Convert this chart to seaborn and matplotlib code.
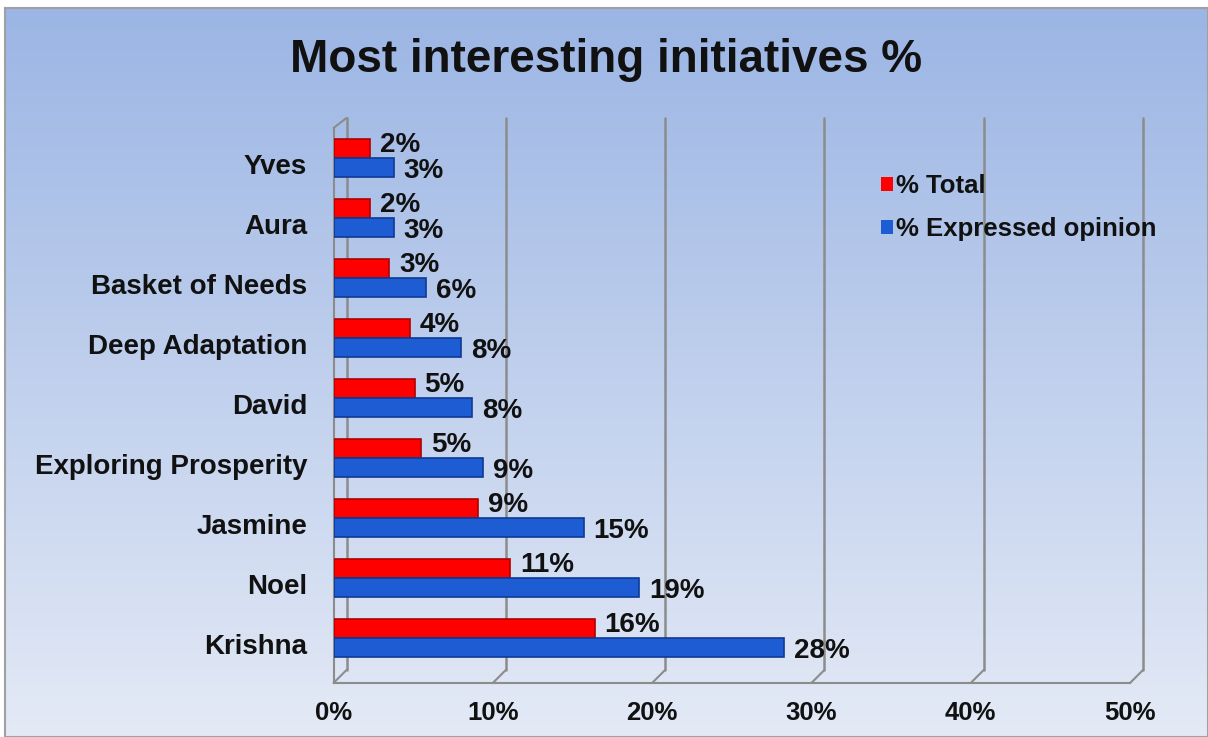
import numpy as np
import pandas as pd
import matplotlib
matplotlib.use("Agg")
import matplotlib.pyplot as plt
import matplotlib.transforms as mtransforms
from matplotlib.patches import Patch
import seaborn as sns

# ---- data ----
categories = ["Yves", "Aura", "Basket of Needs", "Deep Adaptation", "David",
              "Exploring Prosperity", "Jasmine", "Noel", "Krishna"]
series_names = ["% Total", "% Expressed opinion"]
total = [2.3, 2.3, 3.5, 4.8, 5.1, 5.5, 9.1, 11.1, 16.4]
expressed = [3.8, 3.8, 5.8, 8.0, 8.7, 9.4, 15.7, 19.2, 28.3]
total_labels = ["2%", "2%", "3%", "4%", "5%", "5%", "9%", "11%", "16%"]
expressed_labels = ["3%", "3%", "6%", "8%", "8%", "9%", "15%", "19%", "28%"]
xticks = [0, 10, 20, 30, 40, 50]
xtick_labels = ["0%", "10%", "20%", "30%", "40%", "50%"]
title = "Most interesting initiatives %"

df = pd.DataFrame({
    "initiative": categories * 2,
    "value": total + expressed,
    "series": [series_names[0]] * len(categories) + [series_names[1]] * len(categories),
})

RED = "#FF0000"
RED_EDGE = "#B00000"
BLUE = "#1E5CD4"
BLUE_EDGE = "#0E3A94"
GRID = "#8C8C8C"
TEXT = "#111111"

sns.set_theme(style="white")
plt.rcParams["font.family"] = ["Liberation Sans", "DejaVu Sans"]
plt.rcParams["font.weight"] = "bold"

W, H, DPI = 1208, 737, 100
fig = plt.figure(figsize=(W / DPI, H / DPI), dpi=DPI, facecolor="white")

# gradient background panel
bg = fig.add_axes([5 / W, 0, 1 - 5 / W, 1 - 8 / H], zorder=-10)
top_c = np.array([155, 181, 228]) / 255
bot_c = np.array([228, 234, 246]) / 255
t = np.linspace(0, 1, 256)[:, None]
grad = (top_c[None, :] * (1 - t) + bot_c[None, :] * t)[:, None, :]
bg.imshow(grad, aspect="auto", extent=[0, 1, 0, 1], origin="upper")
bg.set_xticks([]); bg.set_yticks([])
for s in bg.spines.values():
    s.set_color("#A0A0A0"); s.set_linewidth(1.5)

# main axes: 0% at x=333.5px, 50% at 1130px ; y from 128px to 683px
x0, x1 = 333.5, 1130
ytop, ybot = 128, 683
ax = fig.add_axes([x0 / W, (H - ybot) / H, (x1 - x0) / W, (ybot - ytop) / H])
ax.patch.set_alpha(0)

sns.barplot(data=df, y="initiative", x="value", hue="series", orient="h",
            palette=[RED, BLUE], width=0.64, dodge=True, saturation=1,
            legend=False, ax=ax, zorder=3)

ax.set_xlim(0, 50)
ax.set_ylim(8.75, -0.5)

for cont, ec in zip(ax.containers, [RED_EDGE, BLUE_EDGE]):
    for p in cont:
        p.set_edgecolor(ec)
        p.set_linewidth(1.2)

# data labels
for cont, labs, dy in zip(ax.containers, [total_labels, expressed_labels], [2.5, -2.5]):
    for p, lab in zip(cont, labs):
        ax.annotate(lab, xy=(p.get_width(), p.get_y() + p.get_height() / 2),
                    xytext=(7, dy), textcoords="offset points",
                    ha="left", va="center", fontsize=20, fontweight="bold",
                    color=TEXT, zorder=5)

# 3D-like gridlines (back wall offset)
px_per_unit = (x1 - x0) / 50
dx = 13 / px_per_unit
dy_ax = 13 / (ybot - ytop)
xt = ax.get_xaxis_transform()
for v in xticks:
    ax.plot([v + dx, v + dx], [dy_ax, 1 + 10 / (ybot - ytop)], color=GRID, lw=1.8,
            transform=xt, clip_on=False, zorder=1)
    ax.plot([v, v + dx], [0, dy_ax], color=GRID, lw=1.5, transform=xt,
            clip_on=False, zorder=1)
ax.plot([0, dx], [1, 1 + 10 / (ybot - ytop)], color=GRID, lw=1.5, transform=xt,
        clip_on=False, zorder=1)

# axes styling
for side in ["top", "right"]:
    ax.spines[side].set_visible(False)
for side in ["left", "bottom"]:
    ax.spines[side].set_color(GRID)
    ax.spines[side].set_linewidth(1.5)

ax.set_xticks(xticks)
ax.set_xticklabels(xtick_labels)
ax.tick_params(axis="x", length=5, width=1.2, color=GRID, direction="out",
               pad=8, labelsize=18.5, labelcolor=TEXT)
ax.tick_params(axis="y", which="major", length=0, pad=19, labelsize=20, labelcolor=TEXT)
ax.set_yticks(np.arange(len(categories) + 1) - 0.417, minor=True)
ax.tick_params(axis="y", which="minor", length=5, width=1.2, color=GRID, direction="out")
for lab in ax.get_xticklabels() + ax.get_yticklabels():
    lab.set_fontweight("bold")
offset = mtransforms.ScaledTranslation(0, -6 / DPI, fig.dpi_scale_trans)
for lab in ax.get_yticklabels():
    lab.set_transform(lab.get_transform() + offset)

ax.set_xlabel("")
ax.set_ylabel("")
ax.grid(False)

# title
fig.text(606 / W, 1 - 60 / H, title, ha="center", va="center",
         fontsize=33, fontweight="bold", color=TEXT)

# legend
handles = [Patch(facecolor=RED, edgecolor="none"), Patch(facecolor=BLUE, edgecolor="none")]
fig.legend(handles, series_names, loc="upper left",
           bbox_to_anchor=(881 / W, 1 - 174 / H), bbox_transform=fig.transFigure,
           frameon=False, prop={"size": 18.5, "weight": "bold"},
           handlelength=0.45, handleheight=0.45, handletextpad=0.15,
           labelspacing=0.75, borderpad=0, borderaxespad=0, labelcolor=TEXT)

fig.savefig("out.png", dpi=DPI, facecolor="white")
